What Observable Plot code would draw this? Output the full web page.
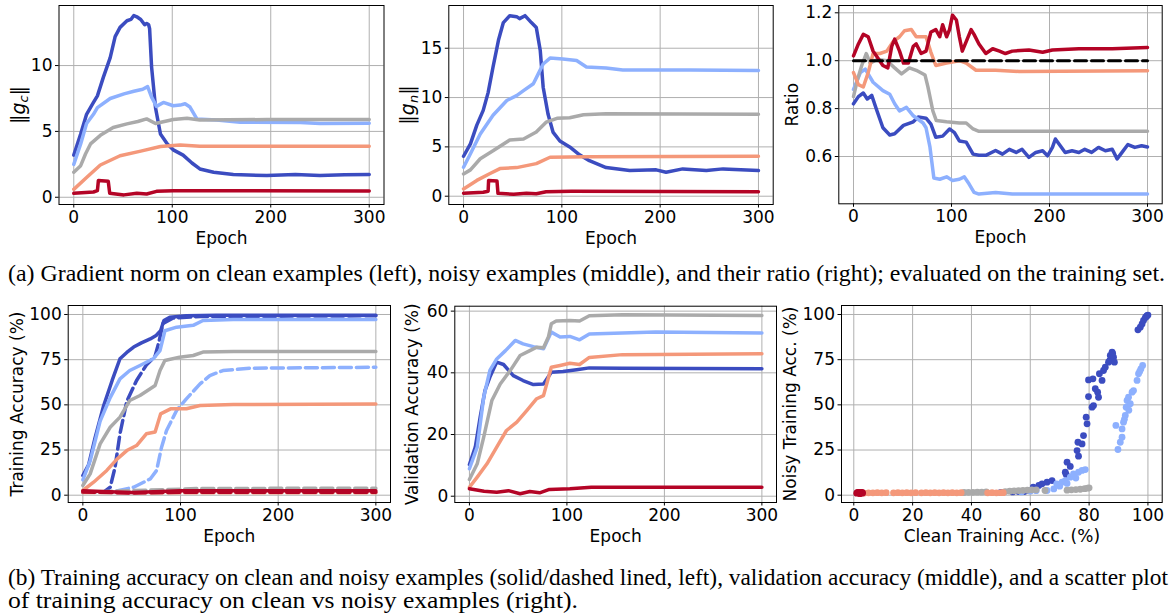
<!DOCTYPE html>
<html><head><meta charset="utf-8">
<script src="https://cdn.jsdelivr.net/npm/d3@7"></script>
<script src="https://cdn.jsdelivr.net/npm/@observablehq/plot@0.6"></script>
<style>
body{margin:0;background:#fff;}
#fig{position:relative;width:1172px;height:615px;overflow:hidden;background:#fff;}
#fig svg{position:absolute;}
</style></head><body><div id="fig"></div>
<script>
// ---------- series colours (coolwarm) ----------
const seriesColors = ["#3b4cc0", "#8db0fe", "#aaaaaa", "#f4987a", "#b40426"];

// ---------- tick labels ----------
const epochTicks = [0, 100, 200, 300];
const gcTicks = [0, 5, 10];
const gnTicks = [0, 5, 10, 15];
const ratioTicks = [0.6, 0.8, 1.0, 1.2];
const trainTicks = [0, 25, 50, 75, 100];
const valTicks = [0, 20, 40, 60];
const cleanAccTicks = [0, 20, 40, 60, 80, 100];

// ---------- (a) left: gradient norm on clean examples ----------
const gcS0 = [[0,3.2],[7,4.8],[13,6.3],[20,7.2],[24,7.7],[30,9.1],[37,10.6],[42,12.2],[47,12.9],[54,13.4],[58,13.5],[61,13.8],[64,13.7],[68,13.5],[72,13.1],[74,13.2],[76,13.1],[77,12.8],[79,9.9],[83,6.8],[88,4.8],[95,4.05],[101,3.6],[111,3.2],[120,2.6],[128,2.15],[142,1.9],[162,1.72],[196,1.65],[225,1.72],[250,1.66],[275,1.7],[300,1.72]];
const gcS1 = [[0,2.5],[7,4.05],[13,5.6],[20,6.3],[24,6.8],[37,7.5],[51,7.85],[61,8.05],[70,8.2],[75,8.4],[79,7.6],[84,6.9],[91,7.2],[101,6.95],[108,7.0],[113,7.1],[118,6.85],[125,5.95],[145,5.87],[169,5.7],[230,5.67],[250,5.6],[300,5.62]];
const gcS2 = [[0,1.9],[7,2.4],[12,3.3],[17,4.05],[27,4.7],[40,5.3],[54,5.57],[65,5.75],[74,5.95],[83,5.6],[101,5.9],[115,6.0],[128,5.87],[196,5.9],[300,5.9]];
const gcS3 = [[0,0.6],[13,1.5],[27,2.45],[47,3.15],[68,3.5],[88,3.85],[108,3.97],[128,3.87],[300,3.87]];
const gcS4 = [[0,0.3],[20,0.4],[24,0.5],[25,1.27],[35,1.22],[36.5,0.3],[51,0.18],[64,0.3],[74,0.25],[84,0.45],[101,0.5],[300,0.48]];

// ---------- (a) middle: gradient norm on noisy examples ----------
const gnS0 = [[0,4.05],[7,5.3],[13.5,7.2],[20,8.7],[25,10.5],[30,13.1],[35.5,15.8],[40.5,17.6],[47,18.3],[54,18.2],[57,18.0],[62.5,18.3],[69,17.6],[74,17.1],[78,14.8],[81,11.05],[86,8.3],[91,6.5],[98,5.6],[108,5.0],[118,4.2],[128,3.6],[145,2.9],[169,2.6],[196,2.67],[206,2.43],[223,2.77],[247,2.6],[264,2.77],[300,2.6]];
const gnS1 = [[0,2.94],[7,4.3],[17,6.3],[30,8.2],[44,9.7],[54,10.2],[61,10.7],[71,11.4],[76,12.4],[81,13.4],[88,14.0],[101,13.9],[115,13.75],[125,13.1],[145,13.0],[162,12.8],[230,12.8],[300,12.74]];
const gnS2 = [[0,2.26],[7,2.67],[17,3.8],[30,4.6],[47,5.7],[61,5.8],[74,6.5],[84,7.5],[95,7.9],[108,7.95],[122,8.25],[145,8.35],[300,8.3]];
const gnS3 = [[0,0.74],[13.5,1.6],[27,2.3],[37,2.8],[54,2.9],[74,3.3],[88,3.95],[128,4.0],[300,4.05]];
const gnS4 = [[0,0.3],[20,0.4],[25,0.5],[25.5,1.6],[34,1.55],[35,0.3],[51,0.2],[64,0.3],[74,0.25],[84,0.45],[110,0.5],[300,0.45]];

// ---------- (a) right: ratio ----------
const ratioS0 = [[0,0.82],[5,0.85],[10,0.865],[14,0.84],[18.6,0.855],[24,0.79],[30,0.72],[37,0.69],[42,0.695],[51,0.73],[61,0.745],[66,0.765],[74,0.76],[79,0.735],[84,0.68],[91,0.685],[98,0.715],[103,0.70],[108,0.665],[115,0.66],[122,0.61],[128,0.605],[135,0.605],[145,0.625],[152,0.61],[159,0.63],[166,0.617],[172,0.63],[179,0.596],[186,0.617],[193,0.624],[198,0.603],[203,0.638],[206,0.673],[211,0.645],[216,0.617],[223,0.624],[230,0.617],[236,0.63],[243,0.617],[250,0.638],[257,0.624],[264,0.63],[269,0.59],[274,0.617],[280,0.65],[287,0.638],[294,0.645],[300,0.64]];
const ratioS1 = [[0,0.88],[7,0.95],[12,0.965],[20,0.91],[30,0.875],[37,0.86],[42,0.82],[47,0.79],[54,0.805],[61,0.77],[71,0.74],[74,0.72],[78,0.64],[82,0.51],[88,0.505],[95,0.515],[101,0.50],[108,0.505],[113,0.515],[118,0.485],[123,0.45],[128,0.443],[145,0.45],[162,0.443],[196,0.443],[300,0.443]];
const ratioS2 = [[0,0.85],[4,0.92],[8.4,0.98],[13,1.03],[17,0.99],[24,1.005],[34,1.0],[42,0.97],[49,0.945],[57,0.97],[64,0.96],[73,0.94],[76,0.89],[81,0.79],[84.5,0.75],[95,0.745],[108,0.74],[115,0.74],[122,0.715],[128,0.705],[300,0.705]];
const ratioS3 = [[0,0.95],[5,0.90],[10,0.89],[15,0.95],[20,1.03],[27,1.03],[34,1.04],[40.5,1.08],[47,1.10],[52,1.125],[59,1.13],[64,1.10],[74,1.10],[79,1.035],[84,0.98],[95,0.99],[108,1.0],[115,0.99],[125,0.96],[145,0.96],[169,0.955],[300,0.958]];
const ratioS4 = [[0,1.02],[5,1.07],[10,1.11],[15,1.10],[20,1.04],[25,1.01],[30,0.98],[35,0.97],[39,1.06],[42,1.09],[47,1.04],[51,0.99],[56,0.99],[61,1.06],[64,1.07],[69,1.03],[74,1.04],[79,1.12],[84,1.13],[88,1.10],[91,1.15],[95,1.10],[98,1.13],[101,1.19],[105,1.17],[108,1.10],[111,1.04],[115,1.08],[120,1.13],[123,1.11],[128,1.07],[135,1.03],[142,1.05],[149,1.04],[155,1.03],[162,1.04],[179,1.045],[193,1.035],[203,1.045],[230,1.05],[264,1.05],[300,1.055]];
const ratioRef = [[0,1],[300,1]];

// ---------- (b) left: training accuracy, clean (solid) / noisy (dashed) ----------
const trainCleanS0 = [[0,10.9],[6,17],[12.6,32],[21,49],[30,63.5],[38,75.5],[45,79],[52,82],[60,84.3],[69,86.5],[75,88.4],[79.6,91],[83,96.7],[89,98.5],[106,99.3],[137,99.6],[300,99.6]];
const trainNoisyS0 = [[0,1.6],[21,1.6],[28,4.4],[33,15.5],[38,34],[45,52],[55,63.5],[65,72],[74,77],[78,85],[82,95],[92,98],[120,98.9],[300,99.3]];
const trainCleanS1 = [[0,8.5],[7.5,19],[17.7,41],[28,54],[38,64.4],[48,69],[58.5,71.8],[72,75.5],[79,80],[84,91],[96,93],[113,94],[123,96.7],[154,97.2],[300,97.2]];
const trainNoisyS1 = [[0,1.6],[28,1.6],[52,4.4],[69,9],[75.5,13.7],[80.6,26.6],[85.7,35.8],[96,46.9],[106,53.3],[120,61.6],[130,66.2],[143.5,69],[171,70.3],[300,70.8]];
const trainCleanS2 = [[0,5.4],[7.5,11.8],[17.7,28.4],[28,37.6],[38,43.2],[48,52.4],[58.5,55.2],[69,58.9],[74,60.7],[79,69],[84,74.5],[99,76.4],[113,77.3],[123,79.2],[154,79.5],[300,79.5]];
const trainNoisyS2 = [[0,1.6],[52,2.6],[85,3.1],[120,3.7],[300,3.9]];
const trainCleanS3 = [[0,2.6],[11,7.2],[24.5,13.7],[35,20],[45,24.7],[55,27.5],[65,34],[74,35],[79.6,45],[89.8,47.8],[106,47.8],[120,49.6],[154,50.2],[300,50.5]];
const trainNoisyS3 = [[0,1.5],[100,1.3],[300,1.4]];
const trainCleanS4 = [[0,2.5],[20,2.0],[50,1.5],[80,2.0],[100,2.5],[300,2.5]];
const trainNoisyS4 = [[0,1.8],[50,1.2],[100,1.6],[300,1.6]];

// ---------- (b) middle: validation accuracy ----------
const valS0 = [[0,10.3],[6,15.9],[11,25.6],[16,34.3],[21,38.6],[28,43.5],[35,42.7],[45,39.1],[55,37.5],[65.6,36.2],[76,36.4],[84,40.2],[96,40.4],[110,41],[123,41.6],[157,41.5],[300,41.3]];
const valS1 = [[0,8.9],[8,15.9],[14.6,32],[21,40.8],[28,44.5],[37,47.2],[47,50.5],[55,49.4],[65.6,48.5],[76,47.8],[84,53.2],[93,51.6],[103,51.8],[113,50.7],[123,52.6],[157,52.9],[191,53.2],[300,52.9]];
const valS2 = [[0,5.4],[8,10.5],[14.6,19.1],[23,31],[31.6,36.4],[42,40.8],[52,45.6],[62,47.2],[69,48.3],[76,48.1],[81,51.6],[84,55.9],[89,56.8],[103,57],[113,56.8],[123,58.5],[157,58.8],[300,58.6]];
const valS3 = [[0,2.9],[8,6.2],[18,10.5],[28,15.9],[38,21.3],[48.6,24],[59,27.8],[69,31.6],[76,32.6],[84,41.8],[93,42.4],[103,43.1],[113,42.7],[123,45],[157,45.9],[300,46.2]];
const valS4 = [[0,2.4],[15,1.6],[28,1.3],[40,1.8],[52,0.8],[62,1.5],[72,1.1],[82,2.2],[103,2.4],[125,2.9],[300,2.9]];

// ---------- (b) right: scatter clean vs noisy training accuracy ----------
const scatterS0 = [[50,1.5],[54,1.8],[56,2.0],[58,2.0],[59.5,2.6],[61,4.4],[62.9,5.4],[64,6.3],[65.7,7.2],[67.4,8.1],[71.9,12.7],[72.2,11.5],[72.5,18.3],[73.6,15.9],[75.9,24.7],[76.2,29.3],[76.4,21.6],[77.6,28.4],[78.1,33],[79,43.2],[79.3,39.5],[79.8,54.6],[79.8,63.8],[81.3,64.4],[81,48.7],[81.5,49.6],[82.1,58.9],[82.9,57],[83.2,54.2],[83.5,67.2],[84.4,63.5],[84.9,69],[85.5,70.8],[86.6,73.6],[87,74.5],[87.2,77.3],[87.8,79.2],[88,78.5],[88.3,76.4],[88.6,73.6],[96.6,91.5],[97.4,93],[98,94.8],[98.5,96.7],[99.1,98.2],[99.4,98.8],[99.7,99.3],[100,99.7]];
const scatterS1 = [[57,1.8],[60,2.2],[62,2.5],[65.7,2.6],[68,3.5],[69,6.3],[70,5],[70.8,7.2],[71.9,8.1],[72.5,6.5],[73.6,10],[74.7,11.8],[75.5,9.5],[76.4,12.7],[77.6,13.7],[78.7,14.2],[89.1,38.6],[89.8,25.3],[90.6,29.3],[91.2,32.1],[91.2,36.7],[91.7,40.4],[92,42],[92.3,44.1],[92.6,48.7],[92.9,52.4],[93.4,54.2],[93.5,47],[94,50.6],[94.6,57],[95.1,57.9],[96.3,63.5],[96.8,67.2],[97.2,68.5],[97.6,69.9],[98.2,71.8]];
const scatterS2 = [[37.5,1.5],[39,1.6],[40.5,1.6],[42,1.7],[43.5,1.7],[45,1.8],[51.5,2.0],[53,2.2],[54.5,2.4],[56,2.5],[57.5,2.7],[59,2.8],[60.5,3.0],[62,3.0],[65,2.6],[72.5,2.8],[74,3.0],[75.5,3.1],[77,3.3],[78.5,3.6],[79.5,3.9],[80,4.1]];
const scatterS3 = [[3.5,1.2],[5,1.3],[6.5,1.3],[8,1.4],[9.5,1.3],[11,1.4],[13.5,1.3],[15,1.4],[16.5,1.3],[18,1.4],[19.5,1.3],[21,1.4],[23,1.3],[24.5,1.4],[26,1.3],[27.5,1.4],[29,1.3],[30.5,1.4],[32,1.3],[33.5,1.4],[35,1.3],[36.5,1.4],[45.5,1.3],[47,1.4],[48.5,1.3],[50,1.4],[50.8,1.4]];
const scatterS4 = [[1,1.1],[1.3,1.5],[1.5,1.3],[1.8,1.6],[2,1.0],[2.2,0.9],[2.5,1.4],[2.8,1.5],[3,1.2]];

// ---------- captions ----------
const captionA = "(a) Gradient norm on clean examples (left), noisy examples (middle), and their ratio (right); evaluated on the training set.";
const captionB1 = "(b) Training accuracy on clean and noisy examples (solid/dashed lined, left), validation accuracy (middle), and a scatter plot";
const captionB2 = "of training accuracy on clean vs noisy examples (right).";

// =====================================================================
const fig = document.getElementById("fig");
const LW = 3.5;
const DASH = "12,5";

function lines(seriesList, opts = {}) {
  return seriesList.map((s, i) => Plot.line(s, {stroke: seriesColors[i], strokeWidth: LW, strokeLinejoin: "round", ...opts}));
}

function panel(cfg) {
  const svg = Plot.plot({
    width: cfg.width, height: cfg.height,
    marginTop: cfg.mt, marginRight: cfg.mr, marginBottom: cfg.mb, marginLeft: cfg.ml,
    style: {fontFamily: "'DejaVu Sans', sans-serif", fontSize: "17px", color: "black", background: "none", overflow: "visible"},
    x: {domain: cfg.xDomain},
    y: {domain: cfg.yDomain},
    marks: [
      Plot.gridX(cfg.xTicks, {stroke: "#b0b0b0", strokeOpacity: 1, strokeWidth: 1}),
      Plot.gridY(cfg.yTicks, {stroke: "#b0b0b0", strokeOpacity: 1, strokeWidth: 1}),
      ...cfg.marks,
      Plot.frame({stroke: "black", strokeWidth: 1}),
      Plot.axisX(cfg.xTicks, {tickSize: 3.5, tickPadding: 3, label: cfg.xLabel, labelAnchor: "center", labelArrow: "none", labelOffset: cfg.xLabelOffset}),
      Plot.axisY(cfg.yTicks, {tickSize: 3.5, tickPadding: 3, tickFormat: cfg.yFormat, label: cfg.yLabel, labelAnchor: "center", labelArrow: "none", labelOffset: cfg.yLabelOffset})
    ]
  });
  svg.style.left = cfg.left + "px";
  svg.style.top = cfg.top + "px";
  svg.style.maxWidth = "none";
  fig.appendChild(svg);
  return svg;
}

function normLabel(svg, sub) {
  const t = svg.querySelector('g[aria-label="y-axis label"] text');
  if (!t) return;
  const ns = "http://www.w3.org/2000/svg";
  t.textContent = "";
  t.setAttribute("font-size", "19");
  const add = (s, attrs = {}) => {
    const ts = document.createElementNS(ns, "tspan");
    ts.textContent = s;
    for (const k in attrs) ts.setAttribute(k, attrs[k]);
    t.appendChild(ts);
  };
  add("\u2016");
  add("g", {"font-style": "italic"});
  add(sub, {"font-style": "italic", "font-size": "13px", dy: "4"});
  add("\u2016", {dy: "-4"});
}

const epochDomain = [-15, 315];

const p1 = panel({left: 0, top: 0, width: 390, height: 250, mt: 5, mr: 6.5, mb: 46, ml: 58.5,
  xDomain: epochDomain, yDomain: [-0.55, 14.56], xTicks: epochTicks, yTicks: gcTicks,
  xLabel: "Epoch", xLabelOffset: 39, yLabel: "gc", yLabelOffset: 48,
  marks: lines([gcS0, gcS1, gcS2, gcS3, gcS4])});
normLabel(p1, "c");

const p2 = panel({left: 390, top: 0, width: 390, height: 250, mt: 5, mr: 7.3, mb: 46, ml: 58.3,
  xDomain: epochDomain, yDomain: [-0.84, 19.33], xTicks: epochTicks, yTicks: gnTicks,
  xLabel: "Epoch", xLabelOffset: 39, yLabel: "gn", yLabelOffset: 48,
  marks: lines([gnS0, gnS1, gnS2, gnS3, gnS4])});
normLabel(p2, "n");

panel({left: 780, top: 0, width: 392, height: 250, mt: 5, mr: 10.3, mb: 46.7, ml: 58.3,
  xDomain: epochDomain, yDomain: [0.4025, 1.2305], xTicks: epochTicks, yTicks: ratioTicks, yFormat: d3.format(".1f"),
  xLabel: "Epoch", xLabelOffset: 39, yLabel: "Ratio", yLabelOffset: 53,
  marks: [...lines([ratioS0, ratioS1, ratioS2, ratioS3, ratioS4]),
    Plot.line(ratioRef, {stroke: "black", strokeWidth: 3, strokeDasharray: DASH})]});

const trainMarks = [];
[[trainCleanS0, trainNoisyS0], [trainCleanS1, trainNoisyS1], [trainCleanS2, trainNoisyS2], [trainCleanS3, trainNoisyS3], [trainCleanS4, trainNoisyS4]].forEach(([c, n], i) => {
  trainMarks.push(Plot.line(c, {stroke: seriesColors[i], strokeWidth: LW, strokeLinejoin: "round"}));
  trainMarks.push(Plot.line(n, {stroke: seriesColors[i], strokeWidth: LW, strokeLinejoin: "round", strokeDasharray: DASH}));
});

panel({left: 0, top: 290, width: 392, height: 260, mt: 15, mr: 2, mb: 48, ml: 67.7,
  xDomain: epochDomain, yDomain: [-4.04, 104.98], xTicks: epochTicks, yTicks: trainTicks,
  xLabel: "Epoch", xLabelOffset: 39, yLabel: "Training Accuracy (%)", yLabelOffset: 57,
  marks: trainMarks});

panel({left: 392, top: 290, width: 390, height: 260, mt: 15.7, mr: 6, mb: 48, ml: 62.3,
  xDomain: epochDomain, yDomain: [-2.04, 61.6], xTicks: epochTicks, yTicks: valTicks,
  xLabel: "Epoch", xLabelOffset: 39, yLabel: "Validation Accuracy (%)", yLabelOffset: 49,
  marks: lines([valS0, valS1, valS2, valS3, valS4])});

panel({left: 780, top: 290, width: 392, height: 260, mt: 15, mr: 10.3, mb: 48, ml: 61,
  xDomain: [-4.18, 104.85], yDomain: [-4.04, 104.98], xTicks: cleanAccTicks, yTicks: trainTicks,
  xLabel: "Clean Training Acc. (%)", xLabelOffset: 39, yLabel: "Noisy Training Acc. (%)", yLabelOffset: 58,
  marks: [scatterS0, scatterS1, scatterS2, scatterS3, scatterS4].map((s, i) => Plot.dot(s, {fill: seriesColors[i], r: 3.4, stroke: "none"}))});

// captions
const ns = "http://www.w3.org/2000/svg";
const cap = document.createElementNS(ns, "svg");
cap.setAttribute("width", 1172); cap.setAttribute("height", 615);
cap.style.left = "0px"; cap.style.top = "0px";
function capText(str, x, y, len) {
  const t = document.createElementNS(ns, "text");
  t.setAttribute("x", x); t.setAttribute("y", y);
  t.setAttribute("font-family", "'Liberation Serif', 'Times New Roman', serif");
  t.setAttribute("font-size", "23");
  t.setAttribute("textLength", len);
  t.setAttribute("lengthAdjust", "spacingAndGlyphs");
  t.textContent = str;
  cap.appendChild(t);
}
capText(captionA, 8, 281, 1157);
capText(captionB1, 8, 585, 1160);
capText(captionB2, 8, 608, 570);
fig.appendChild(cap);
</script></body></html>
